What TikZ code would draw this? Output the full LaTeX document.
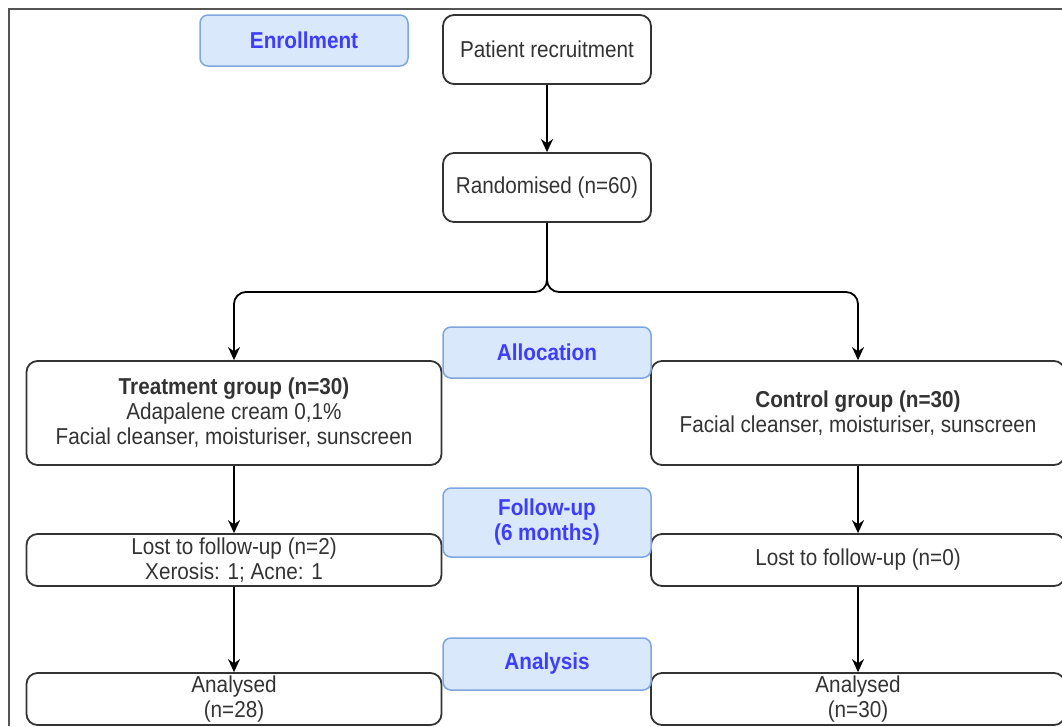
\documentclass[tikz,border=0pt]{standalone}
\usepackage{fontspec}
\setmainfont[FakeStretch=0.9]{Liberation Sans}
\usetikzlibrary{arrows.meta}
\definecolor{boxline}{HTML}{333333}
\definecolor{txt}{HTML}{333333}
\definecolor{bluefill}{HTML}{DAE8FC}
\definecolor{blueline}{HTML}{7EA6E0}
\definecolor{bluetext}{HTML}{3D3DFF}
\definecolor{framecol}{HTML}{555555}
\begin{document}
\begin{tikzpicture}[x=1pt,y=-1pt,
  base/.style={draw, align=center, inner sep=0pt, font=\fontsize{23}{25}\selectfont},
  wbox/.style={base, draw=boxline, line width=1.8pt, rounded corners=11pt, fill=white, text=txt},
  bbox/.style={base, draw=blueline, line width=1.5pt, rounded corners=8pt, fill=bluefill, text=bluetext, font=\fontsize{23}{25}\selectfont\bfseries},
  conn/.style={draw=black, line width=1.8pt, -{Stealth[length=13pt,width=12pt]}}]
\useasboundingbox (0,0) rectangle (1062,726);
\draw[framecol, line width=2pt] (8.5,726) -- (8.5,8.5) -- (1062,8.5);

% left-column labels
\node[bbox, minimum width=208, minimum height=51] (enr) at (304,40.5) {Enrollment};

% top boxes
\node[wbox, minimum width=208, minimum height=69] (rec) at (547,49.5) {Patient recruitment};
\node[wbox, minimum width=208, minimum height=69] (rand) at (547,187.5) {Randomised (n=60)};

% group boxes
\node[wbox, minimum width=415, minimum height=104] (treat) at (234,413)
  {\textbf{Treatment group (n=30)}\\Adapalene cream 0,1\%\\Facial cleanser, moisturiser, sunscreen};
\node[wbox, minimum width=414, minimum height=104] (ctrl) at (858,413)
  {\textbf{Control group (n=30)}\\Facial cleanser, moisturiser, sunscreen};

\node[wbox, minimum width=415, minimum height=52] (lost1) at (234,560)
  {Lost to follow-up (n=2)\\Xerosis: 1; Acne: 1};
\node[wbox, minimum width=414, minimum height=52] (lost2) at (858,560)
  {Lost to follow-up (n=0)};

\node[wbox, minimum width=415, minimum height=52] (an1) at (234,699)
  {Analysed\\(n=28)};
\node[wbox, minimum width=414, minimum height=52] (an2) at (858,699)
  {Analysed\\(n=30)};

% stage labels
\node[bbox, minimum width=208, minimum height=51] (alloc) at (547,352.5) {Allocation};
\node[bbox, minimum width=208, minimum height=69] (fu) at (547,522.5) {Follow-up\\(6 months)};
\node[bbox, minimum width=208, minimum height=52] (ana) at (547,664) {Analysis};

% connectors
\draw[conn] (rec.south) -- (rand.north);
\draw[conn, rounded corners=12pt] (rand.south) -- (547,292) -| (treat.north);
\draw[conn, rounded corners=12pt] (rand.south) -- (547,292) -| (ctrl.north);
\draw[conn] (treat.south) -- (lost1.north);
\draw[conn] (ctrl.south) -- (lost2.north);
\draw[conn] (lost1.south) -- (an1.north);
\draw[conn] (lost2.south) -- (an2.north);
\end{tikzpicture}
\end{document}
